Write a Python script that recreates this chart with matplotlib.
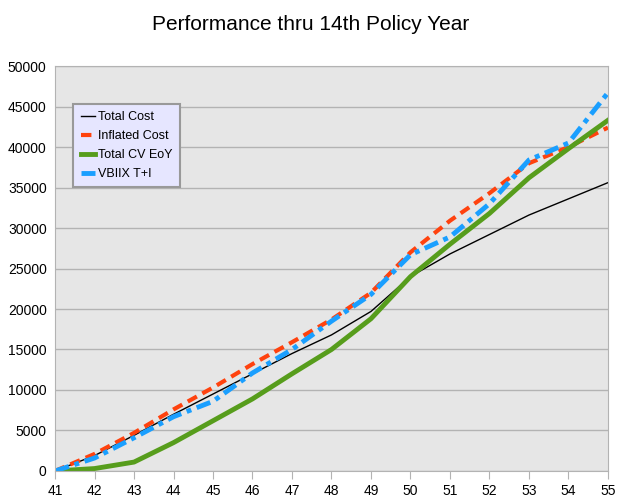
import matplotlib
matplotlib.use("Agg")
import matplotlib.pyplot as plt

plt.rcParams['font.family'] = ['Liberation Sans', 'DejaVu Sans']

years = [41, 42, 43, 44, 45, 46, 47, 48, 49, 50, 51, 52, 53, 54, 55]
total_cost = [0, 1900, 4400, 7000, 9500, 12000, 14500, 16800, 19700, 24000, 26800, 29200, 31600, 33600, 35600]
inflated_cost = [0, 2100, 4700, 7600, 10300, 13200, 15900, 18700, 22000, 27000, 30900, 34300, 38000, 40000, 42400]
total_cv = [0, 300, 1100, 3500, 6200, 8900, 12000, 15000, 18800, 24000, 28000, 31800, 36200, 39800, 43300]
vbiix = [0, 1600, 4100, 6700, 8600, 12100, 15000, 18500, 21800, 26700, 28900, 33000, 38400, 40500, 46700]

fig = plt.figure(figsize=(6.21, 5.04), dpi=100)
ax = fig.add_axes([0.0886, 0.0655, 0.8904, 0.8035])
ax.set_facecolor('#e6e6e6')

ax.plot(years, total_cost, color='black', lw=1, label='Total Cost')
ax.plot(years, inflated_cost, color='#ff420e', lw=3, ls=(0, (2.5, 1.5)), label='Inflated Cost')
ax.plot(years, total_cv, color='#579d1c', lw=3.5, label='Total CV EoY')
ax.plot(years, vbiix, color='#1a9fff', lw=3.5, ls=(0, (3, 1.2, 1, 1.2)), label='VBIIX T+I')

ax.set_xlim(41, 55)
ax.set_ylim(0, 50000)
ax.set_xticks(years)
ax.set_yticks(range(0, 50001, 5000))
ax.yaxis.grid(True, color='#b3b3b3', lw=1)
ax.set_axisbelow(True)
for s in ax.spines.values():
    s.set_color('#b3b3b3')
ax.tick_params(axis='x', direction='out', length=6, color='#b3b3b3', labelsize=10)
ax.tick_params(axis='y', length=0, labelsize=10, pad=6)

fig.suptitle('Performance thru 14th Policy Year', y=0.97, fontsize=15)

leg = ax.legend(loc='upper left', bbox_to_anchor=(0.022, 0.922), fancybox=False,
                facecolor='#e6e6ff', edgecolor='#999999', framealpha=1,
                fontsize=9, handlelength=1.1, handletextpad=0.3,
                labelspacing=0.55, borderpad=0.6)
leg.get_frame().set_linewidth(1.5)

fig.savefig('out.png')
